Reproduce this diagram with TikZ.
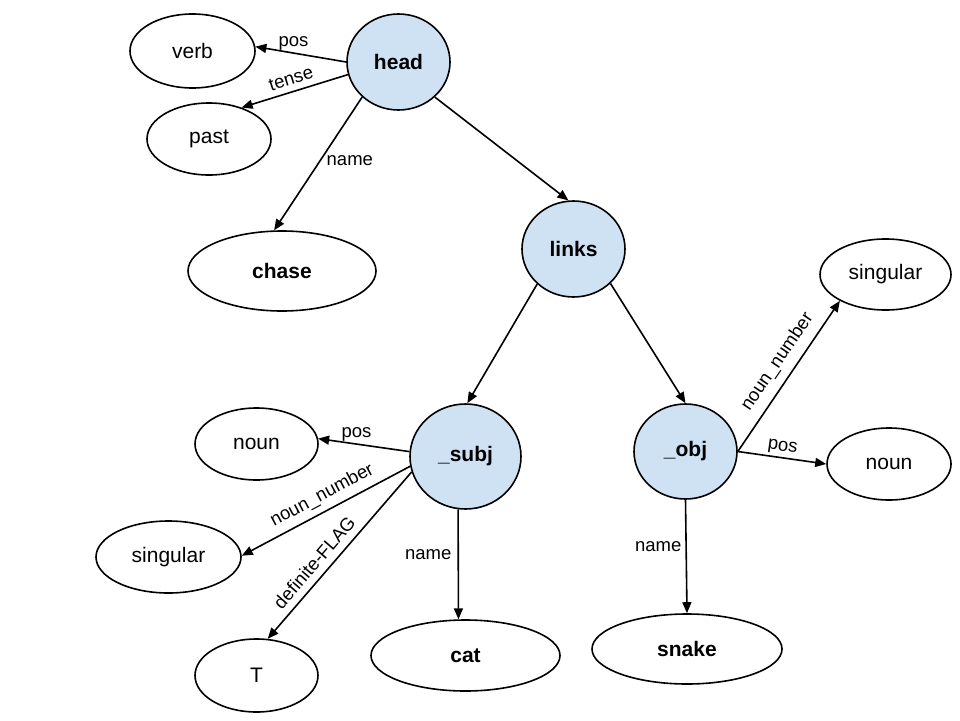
\documentclass[tikz,border=0pt]{standalone}
\usepackage{fontspec}
\setmainfont{Liberation Sans}
\usetikzlibrary{shapes.geometric,arrows.meta}
\definecolor{headblue}{RGB}{207,226,243}
\newcommand{\nodefont}{\fontsize{21}{25}\selectfont}
\newcommand{\lblfont}{\fontsize{18.5}{22}\selectfont}

\begin{document}
\begin{tikzpicture}[x=1pt, y=-1pt,
  feat/.style={ellipse, draw, line width=1.6pt, fill=headblue, inner sep=0pt, font=\nodefont\bfseries},
  val/.style={ellipse, draw, line width=1.6pt, inner sep=0pt, font=\nodefont},
  word/.style={val, font=\nodefont\bfseries},
  arr/.style={line width=1.6pt, -{Triangle[length=11pt, width=9pt]}},
  lbl/.style={font=\lblfont, inner sep=2pt}]
\useasboundingbox (0,0) rectangle (960,720); % page

% feature nodes
\node[feat, minimum width=103pt, minimum height=96pt] (head) at (398.5,62) {head};
\node[feat, minimum width=103pt, minimum height=96pt] (links) at (573.5,249) {links};
\node[feat, minimum width=111pt, minimum height=105pt] (subj) at (465.5,456.5) {\_subj};
\node[feat, minimum width=103pt, minimum height=95pt] (obj) at (685.5,451.5) {\_obj};

% values
\node[val, minimum width=125pt, minimum height=74pt] (verb) at (192.5,51) {verb};
\node[val, minimum width=124pt, minimum height=72pt] (past) at (209,139) {past};
\node[word, minimum width=188pt, minimum height=80pt] (chase) at (282,271) {chase};
\node[val, minimum width=123pt, minimum height=72pt] (noun1) at (256.5,444) {noun};
\node[val, minimum width=145pt, minimum height=72pt] (sing1) at (168.5,557) {singular};
\node[val, minimum width=123pt, minimum height=73pt] (tval) at (256.5,675.5) {T};
\node[word, minimum width=189pt, minimum height=71pt] (cat) at (465.5,655.5) {cat};
\node[val, minimum width=131pt, minimum height=71pt] (sing2) at (885.5,274.5) {singular};
\node[val, minimum width=124pt, minimum height=72pt] (noun2) at (889,464) {noun};
\node[word, minimum width=190pt, minimum height=70pt] (snake) at (687,649) {snake};

% head edges
\draw[arr] (head.180) -- node[lbl, above, pos=.58] (hpos) {pos} (verb.4);
\draw[arr] (head.194) -- node[lbl, sloped, above, pos=.5, inner sep=6pt] (htense) {tense} (past.44);
\draw[arr] (head.224) -- node[lbl, right, pos=.48, xshift=4pt] (hname) {name} (chase.101);
\draw[arr] (head.316) -- (links.96);

% links edges
\draw[arr] (links.224) -- (subj.88);
\draw[arr] (links.317) -- (obj.90);

% subj edges
\draw[arr] (subj.175) -- node[lbl, above, pos=.58] (spos) {pos} (noun1.5);
\draw[arr] (subj.190) -- node[lbl, sloped, above, pos=.48, inner sep=6pt] (snum) {noun\_number} (sing1.1);
\draw[arr] (subj.196) -- node[lbl, sloped, above, pos=.6, inner sep=7pt] (sflag) {definite-FLAG} (tval.73);
\draw[arr] (subj.262) -- node[lbl, left, pos=.41, xshift=-4pt] (sname) {name} (cat.101);

% obj edges
\draw[arr] (obj.0) -- node[lbl, sloped, above, pos=.53, inner sep=8pt] (onum) {noun\_number} (sing2.210);
\draw[arr] (obj.0) -- node[lbl, sloped, above, pos=.49] (opos) {pos} (noun2.180);
\draw[arr] (obj.270) -- node[lbl, left, pos=.41, xshift=-2pt] (oname) {name} (snake.90);
\end{tikzpicture}
\end{document}
